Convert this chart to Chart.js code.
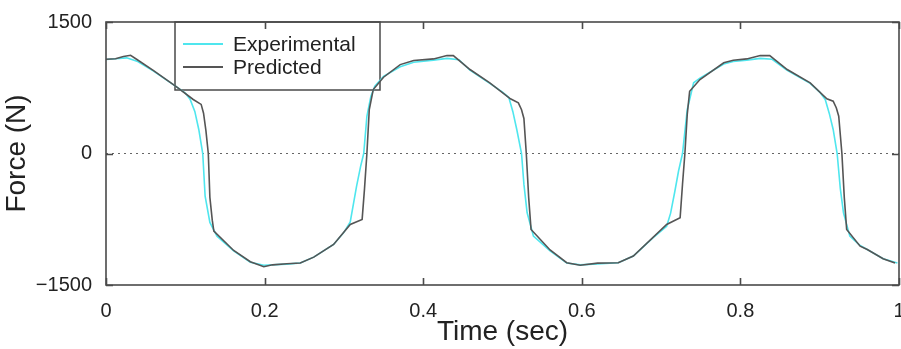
<!DOCTYPE html>
<html>
<head>
<meta charset="utf-8">
<script src="https://cdn.jsdelivr.net/npm/chart.js@4.4.1/dist/chart.umd.min.js"></script>
<style>
  html, body { margin: 0; padding: 0; background: #fff; }
  #wrap { width: 901px; height: 349px; }
</style>
</head>
<body>
<div id="wrap"><canvas id="forceChart" width="901" height="349"></canvas></div>
<script>
// values
const timeExp = [0, 0.012, 0.026, 0.039, 0.060, 0.089, 0.100, 0.106, 0.112, 0.117, 0.122, 0.125, 0.131, 0.140,
  0.161, 0.182, 0.199, 0.228, 0.245, 0.262, 0.287, 0.300, 0.308, 0.316, 0.321, 0.325, 0.329, 0.334, 0.339,
  0.350, 0.371, 0.388, 0.413, 0.430, 0.445, 0.459, 0.484, 0.500, 0.508, 0.513, 0.518, 0.524, 0.527, 0.531, 0.539,
  0.560, 0.581, 0.598, 0.646, 0.665, 0.690, 0.707, 0.712, 0.717, 0.722, 0.727, 0.733, 0.741,
  0.749, 0.779, 0.791, 0.808, 0.825, 0.840, 0.859, 0.888, 0.900, 0.907, 0.912, 0.917, 0.922, 0.926, 0.930, 0.938,
  0.951, 0.960, 0.980, 0.998];
const forceExp = [1072, 1080, 1091, 1053, 940, 760, 690, 620, 480, 274, 0, -487, -787, -943,
  -1110, -1240, -1275, -1262, -1250, -1182, -1037, -900, -780, -372, -150, 0, 425, 650, 767,
  880, 990, 1040, 1065, 1085, 1070, 950, 800, 700, 638, 480, 274, 0, -350, -673, -943,
  -1110, -1250, -1270, -1246, -1170, -960, -829, -680, -448, -200, 0, 502, 806,
  860, 1020, 1050, 1065, 1085, 1075, 950, 800, 700, 616, 460, 274, 0, -400, -677, -943,
  -1050, -1095, -1200, -1250];

const timePred = [0, 0.012, 0.022, 0.031, 0.039, 0.060, 0.089, 0.110, 0.120, 0.123, 0.126, 0.129, 0.131, 0.134, 0.136,
  0.161, 0.182, 0.199, 0.210, 0.228, 0.245, 0.262, 0.287, 0.308, 0.323, 0.326, 0.329, 0.332, 0.337,
  0.350, 0.371, 0.388, 0.413, 0.430, 0.438, 0.459, 0.484, 0.510, 0.520, 0.524, 0.527, 0.530, 0.533, 0.536,
  0.560, 0.581, 0.598, 0.620, 0.646, 0.665, 0.707, 0.724, 0.727, 0.730, 0.733, 0.736,
  0.749, 0.779, 0.791, 0.808, 0.825, 0.837, 0.859, 0.888, 0.909, 0.917, 0.921, 0.924, 0.928, 0.931, 0.934,
  0.951, 0.960, 0.980, 0.995];
const forcePred = [1075, 1080, 1106, 1120, 1072, 946, 760, 616, 560, 460, 260, 0, -500, -760, -886,
  -1106, -1235, -1292, -1270, -1258, -1250, -1182, -1037, -809, -752, -400, 0, 502, 730,
  870, 1014, 1060, 1079, 1117, 1117, 958, 806, 624, 578, 500, 400, 0, -500, -866,
  -1100, -1246, -1275, -1250, -1246, -1170, -809, -733, -350, 0, 450, 710,
  844, 1034, 1064, 1079, 1117, 1117, 958, 806, 624, 596, 520, 425, 0, -500, -866,
  -1057, -1095, -1200, -1250];

const xTicks = [0, 0.2, 0.4, 0.6, 0.8, 1];
const yTicks = [-1500, 0, 1500];
const seriesNames = ['Experimental', 'Predicted'];
const seriesColors = ['#4fe6ee', '#555555'];

const FONT = '"Liberation Sans", Arial, sans-serif';
const TEXT = '#222222';

function toPoints(xs, ys) {
  return xs.map((x, i) => ({ x: x, y: ys[i] }));
}

// frame, inner ticks, dotted zero line, legend box
const framePlugin = {
  id: 'frame',
  beforeDatasetsDraw(chart) {
    const ctx = chart.ctx;
    const a = chart.chartArea;
    const ys = chart.scales.y;
    ctx.save();
    const y0 = ys.getPixelForValue(0);
    ctx.strokeStyle = '#666';
    ctx.lineWidth = 1.2;
    ctx.setLineDash([2, 4]);
    ctx.beginPath();
    ctx.moveTo(a.left, y0);
    ctx.lineTo(a.right, y0);
    ctx.stroke();
    ctx.setLineDash([]);

    const lx0 = a.left + 69, lx1 = a.left + 274, ly0 = a.top, ly1 = a.top + 68;
    ctx.strokeStyle = '#4a4a4a';
    ctx.lineWidth = 1.5;
    ctx.strokeRect(lx0, ly0, lx1 - lx0, ly1 - ly0);
    ctx.font = '21px ' + FONT;
    ctx.textBaseline = 'middle';
    ctx.fillStyle = TEXT;
    seriesNames.forEach((name, i) => {
      const yy = ly0 + 22 + i * 23;
      ctx.strokeStyle = seriesColors[i];
      ctx.lineWidth = 1.8;
      ctx.beginPath();
      ctx.moveTo(lx0 + 8, yy);
      ctx.lineTo(lx0 + 48, yy);
      ctx.stroke();
      ctx.fillText(name, lx0 + 58, yy + 1);
    });
    ctx.restore();
  },
  afterDatasetsDraw(chart) {
    const ctx = chart.ctx;
    const a = chart.chartArea;
    const xs = chart.scales.x, ys = chart.scales.y;
    ctx.save();
    ctx.strokeStyle = '#4a4a4a';
    ctx.lineWidth = 1.6;
    ctx.strokeRect(a.left, a.top, a.right - a.left, a.bottom - a.top);
    ctx.beginPath();
    xTicks.forEach(v => {
      const px = Math.round(xs.getPixelForValue(v)) + 0.5;
      ctx.moveTo(px, a.bottom); ctx.lineTo(px, a.bottom - 7);
      ctx.moveTo(px, a.top); ctx.lineTo(px, a.top + 7);
    });
    yTicks.forEach(v => {
      const py = Math.round(ys.getPixelForValue(v)) + 0.5;
      ctx.moveTo(a.left, py); ctx.lineTo(a.left + 7, py);
      ctx.moveTo(a.right, py); ctx.lineTo(a.right - 7, py);
    });
    ctx.stroke();
    ctx.restore();
  }
};

new Chart(document.getElementById('forceChart'), {
  type: 'line',
  data: {
    datasets: [
      {
        label: seriesNames[0],
        data: toPoints(timeExp, forceExp),
        borderColor: seriesColors[0],
        borderWidth: 1.6,
        pointRadius: 0,
        tension: 0,
        order: 1
      },
      {
        label: seriesNames[1],
        data: toPoints(timePred, forcePred),
        borderColor: seriesColors[1],
        borderWidth: 1.6,
        pointRadius: 0,
        tension: 0,
        order: 0
      }
    ]
  },
  options: {
    responsive: false,
    animation: false,
    layout: { padding: { left: 0, right: 2, top: 22, bottom: 0 } },
    plugins: {
      legend: { display: false },
      tooltip: { enabled: false }
    },
    scales: {
      x: {
        type: 'linear',
        min: 0,
        max: 1,
        afterBuildTicks: s => { s.ticks = xTicks.map(v => ({ value: v })); },
        afterFit: s => { s.height = 64; s.paddingLeft = 0; s.paddingRight = 0; },
        grid: { display: false },
        border: { display: false },
        ticks: {
          color: TEXT,
          font: { family: FONT, size: 20 },
          padding: 6,
          maxRotation: 0,
          callback: v => String(v)
        },
        title: {
          display: true,
          text: 'Time (sec)',
          color: TEXT,
          font: { family: FONT, size: 28 },
          padding: { top: 0, bottom: 0 }
        }
      },
      y: {
        min: -1500,
        max: 1500,
        afterBuildTicks: s => { s.ticks = yTicks.map(v => ({ value: v })); },
        afterFit: s => { s.width = 106; s.paddingTop = 0; s.paddingBottom = 0; },
        grid: { display: false },
        border: { display: false },
        ticks: {
          color: TEXT,
          font: { family: FONT, size: 20 },
          padding: 6,
          callback: v => (v < 0 ? '\u2212' + Math.abs(v) : String(v))
        },
        title: {
          display: true,
          text: 'Force (N)',
          color: TEXT,
          font: { family: FONT, size: 28 },
          padding: { top: 0, bottom: 0 }
        }
      }
    }
  },
  plugins: [framePlugin]
});
</script>
</body>
</html>
